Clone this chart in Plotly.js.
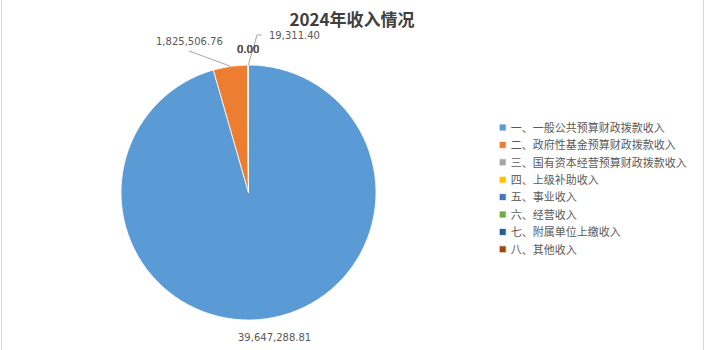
<!DOCTYPE html>
<html>
<head>
<meta charset="utf-8">
<script src="https://cdn.plot.ly/plotly-3.0.1.min.js"></script>
<style>
  html, body { margin: 0; padding: 0; background: #ffffff; }
  #chart { width: 707px; height: 350px; }
</style>
</head>
<body>
<div id="chart"></div>
<script>
// 2024 income breakdown
const categories = [
  '一、一般公共预算财政拨款收入',
  '二、政府性基金预算财政拨款收入',
  '三、国有资本经营预算财政拨款收入',
  '四、上级补助收入',
  '五、事业收入',
  '六、经营收入',
  '七、附属单位上缴收入',
  '八、其他收入'
];
const values = [39647288.81, 1825506.76, 0, 0, 0, 0, 0, 19311.40];
const colors = ['#5B9BD5', '#ED7D31', '#A5A5A5', '#FFC000', '#4472C4', '#70AD47', '#255E91', '#9E480E'];
const chartTitle = '2024年收入情况';

const W = 707, H = 350;
const CX = 248.5, CY = 192.5, R = 127.5;   // pie centre and radius in pixels
const px = x => x / W;
const py = y => 1 - y / H;

const fmt = v => v.toLocaleString('en-US', { minimumFractionDigits: 2, maximumFractionDigits: 2 });
const total = values.reduce((a, b) => a + b, 0);

// point on the pie rim at the middle of slice i (clockwise from 12 o'clock)
function rimPoint(i) {
  let before = 0;
  for (let k = 0; k < i; k++) before += values[k];
  const t = 2 * Math.PI * (before + values[i] / 2) / total;
  return [CX + R * Math.sin(t), CY - R * Math.cos(t)];
}

const labelFont = { family: 'DejaVu Sans, sans-serif', size: 10, color: '#595959' };
const leader = { color: '#A6A6A6', width: 1 };

const annotations = [];
const shapes = [];
const textAt = (text, x, y, extra) => annotations.push(Object.assign({
  xref: 'paper', yref: 'paper', x: px(x), y: py(y),
  xanchor: 'center', yanchor: 'middle', text: text, showarrow: false, font: labelFont
}, extra || {}));

// largest slice: label below the pie
textAt(fmt(values[0]), 274, 337.5);

// second slice: label up-left with a straight leader
{
  const [tx, ty] = rimPoint(1);
  shapes.push({ type: 'line', xref: 'paper', yref: 'paper',
    x0: px(tx), y0: py(ty), x1: px(189), y1: py(51), line: leader });
  textAt(fmt(values[1]), 189.5, 41.5);
}

// zero-valued slices all share the spot at the top of the pie
values.forEach(v => { if (v === 0) textAt(fmt(v), 247.5, 49); });

// last slice: label up-right with an elbow leader
{
  const i = values.length - 1;
  const [tx, ty] = rimPoint(i);
  shapes.push({ type: 'path', xref: 'paper', yref: 'paper',
    path: `M ${px(tx)} ${py(ty)} L ${px(257)} ${py(35)} L ${px(261.5)} ${py(35)}`,
    line: leader });
  textAt(fmt(values[i]), 266.5, 35.5, { xanchor: 'left' });
}

// thin frame lines at the left and right edges of the chart area
[1.5, 703.5].forEach(x => shapes.push({
  type: 'line', xref: 'paper', yref: 'paper', x0: px(x), x1: px(x), y0: 0, y1: 1,
  line: { color: '#D9D9D9', width: 1 }, layer: 'below'
}));

const trace = {
  type: 'pie',
  labels: categories,
  values: values,
  sort: false,
  direction: 'clockwise',
  rotation: 0,
  marker: { colors: colors, line: { color: '#ffffff', width: 0.8 } },
  textinfo: 'none',
  textposition: 'none',
  hoverinfo: 'label+value',
  domain: { x: [px(CX - R), px(CX + R)], y: [py(CY + R), py(CY - R)] }
};

const layout = {
  width: W, height: H,
  margin: { l: 0, r: 0, t: 0, b: 0, autoexpand: false },
  paper_bgcolor: '#ffffff',
  title: {
    text: '<b>' + chartTitle + '</b>',
    font: { family: 'Noto Sans CJK SC, sans-serif', size: 17, color: '#404040' },
    x: 352 / W, xanchor: 'center', y: py(20), yanchor: 'middle'
  },
  showlegend: true,
  legend: {
    x: px(494), xanchor: 'left', y: py(188), yanchor: 'middle',
    font: { family: 'Noto Sans CJK SC, sans-serif', size: 11, color: '#595959' },
    itemwidth: 30, bgcolor: 'rgba(0,0,0,0)'
  },
  annotations: annotations,
  shapes: shapes
};

// legend look: small square keys, tight rows
const KEY_HALF = 3.5, ROW_STEP = 17.4, KEY_CX = 502.7, FIRST_ROW_CY = 127.5, TEXT_GAP = 8;

Plotly.newPlot('chart', [trace], layout, { displayModeBar: false, staticPlot: true }).then(gd => {
  const legend = gd.querySelector('.legend');
  const items = Array.from(legend.querySelectorAll('.traces'));
  const m = /translate\(\s*([-\d.]+)[ ,]+([-\d.]+)\s*\)/.exec(items[0].getAttribute('transform') || '');
  const x0 = m ? +m[1] : 0, y0 = m ? +m[2] : 0;
  items.forEach((g, i) => {
    g.setAttribute('transform', `translate(${x0},${y0 + i * ROW_STEP})`);
    const key = g.querySelector('path.legendpie');
    if (key) key.setAttribute('d', `M${KEY_HALF},${KEY_HALF}H-${KEY_HALF}V-${KEY_HALF}H${KEY_HALF}Z`);
  });
  // place the text just right of the key
  items.forEach(g => {
    const key = g.querySelector('path.legendpie');
    const txt = g.querySelector('text.legendtext');
    if (!key || !txt) return;
    const kb = key.getBoundingClientRect(), tb = txt.getBoundingClientRect();
    const kc = kb.left + kb.width / 2;
    const shift = kc + TEXT_GAP - tb.left;
    txt.setAttribute('x', (+txt.getAttribute('x') || 0) + shift);
  });
  // move the whole legend so the first key lands where wanted
  const kb = items[0].querySelector('path.legendpie').getBoundingClientRect();
  const dx = KEY_CX - (kb.left + kb.width / 2), dy = FIRST_ROW_CY - (kb.top + kb.height / 2);
  const lm = /translate\(\s*([-\d.]+)[ ,]+([-\d.]+)\s*\)/.exec(legend.getAttribute('transform') || '');
  const lx = lm ? +lm[1] : 0, ly = lm ? +lm[2] : 0;
  legend.setAttribute('transform', `translate(${lx + dx},${ly + dy})`);
  const clip = legend.querySelector('.legendbg');
  if (clip) clip.setAttribute('height', 8 * ROW_STEP + 20);
});
</script>
</body>
</html>
